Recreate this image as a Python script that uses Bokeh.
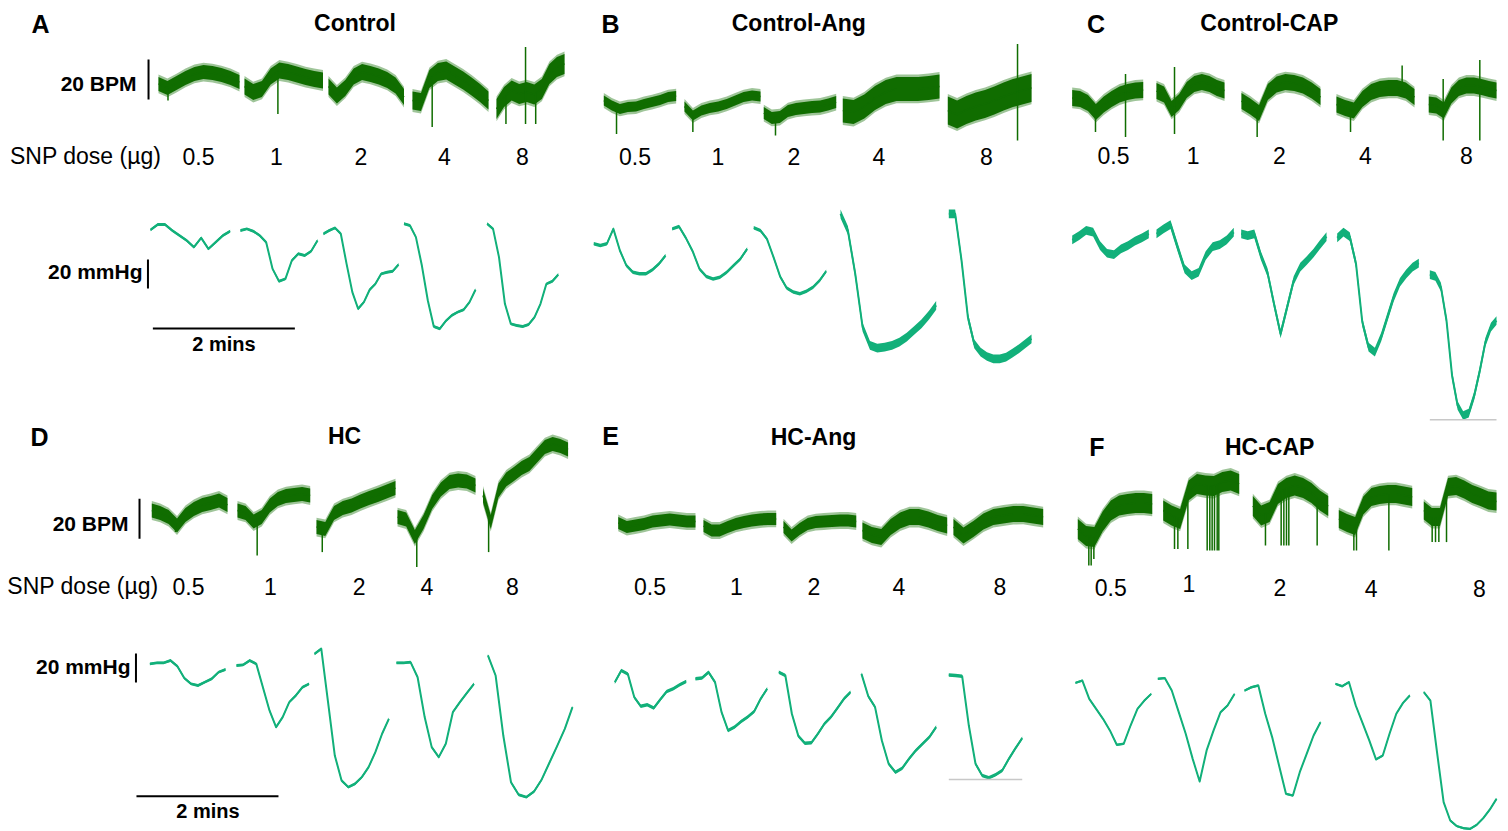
import numpy as np
from bokeh.plotting import figure
from bokeh.models import Range1d
from bokeh.layouts import column, row
from bokeh.embed import file_html
from bokeh.resources import INLINE
from bokeh.core.properties import value

# ---------------- DATA ----------------
DOSES = ["0.5", "1", "2", "4", "8"]
PANEL_LETTERS = ["A", "B", "C", "D", "E", "F"]
PANEL_TITLES = ["Control", "Control-Ang", "Control-CAP", "HC", "HC-Ang", "HC-CAP"]
DOSE_AXIS_LABEL = "SNP dose (\u00b5g)"
HR_SCALE_LABEL = "20 BPM"
BP_SCALE_LABEL = "20 mmHg"
TIME_SCALE_LABEL = "2 mins"
HR_SCALE = 20      # BPM
BP_SCALE = 20      # mmHg
TIME_SCALE = 2     # min

# segment start/end (min) of each dose recording
HR_TIME_A = [(2.225, 3.366), (3.437, 4.542), (4.620, 5.683), (5.803, 6.873), (6.986, 7.944)]
BP_TIME_A = [(2.113, 3.234), (3.380, 4.465), (4.549, 5.606), (5.683, 6.690), (6.854, 7.856)]
HR_TIME_B = [(0.258, 1.277), (1.394, 2.465), (2.511, 3.531), (3.624, 4.986), (5.103, 6.282)]
BP_TIME_B = [(0.117, 1.127), (1.221, 2.277), (2.370, 3.390), (3.592, 4.939), (5.117, 6.282)]
HR_TIME_C = [(0.024, 1.024), (1.211, 2.169), (2.408, 3.521), (3.746, 4.845), (5.046, 6.000)]
BP_TIME_C = [(0.024, 1.103), (1.211, 2.300), (2.404, 3.606), (3.756, 4.906), (5.061, 6.000)]
HR_TIME_D = [(2.131, 3.197), (3.338, 4.362), (4.451, 5.563), (5.592, 6.690), (6.796, 7.994)]
BP_TIME_D = [(2.104, 3.169), (3.324, 4.346), (4.423, 5.470), (5.577, 6.669), (6.865, 8.056)]
HR_TIME_E = [(0.461, 1.549), (1.662, 2.686), (2.789, 3.813), (3.901, 5.094), (5.183, 6.446)]
BP_TIME_E = [(0.413, 1.418), (1.549, 2.559), (2.723, 3.732), (3.887, 4.939), (5.117, 6.151)]
HR_TIME_F = [(0.103, 1.151), (1.306, 2.376), (2.568, 3.630), (3.779, 4.813), (4.976, 6.000)]
BP_TIME_F = [(0.070, 1.137), (1.230, 2.310), (2.451, 3.521), (3.732, 4.779), (4.976, 6.000)]

# heart rate (BPM), one list per dose
HR_A = [
    [378.3, 376.3, 378.7, 381.3, 383.3, 384.2, 383.7, 382.7, 381.3, 379.2],
    [377.0, 374.2, 375.8, 382.0, 385.0, 384.2, 383.0, 381.7, 380.8, 380.0],
    [377.0, 372.5, 376.3, 382.0, 384.2, 383.3, 382.0, 380.3, 377.5, 371.7],
    [370.0, 369.2, 380.8, 384.2, 385.0, 382.5, 380.0, 377.0, 373.7, 370.0],
    [365.8, 371.7, 375.0, 373.3, 374.2, 373.0, 375.8, 383.3, 386.7, 388.3],
]
HR_B = [
    [370.0, 367.5, 365.8, 366.7, 367.0, 368.3, 369.2, 370.3, 371.7, 372.2],
    [367.0, 362.5, 365.0, 366.3, 367.0, 368.3, 370.0, 371.7, 372.5, 372.0],
    [363.7, 361.3, 361.7, 364.7, 365.8, 366.3, 366.7, 367.0, 368.0, 369.2],
    [365.0, 364.2, 367.0, 371.3, 374.2, 375.8, 375.8, 375.8, 376.3, 377.0],
    [365.0, 363.0, 365.3, 367.0, 368.3, 370.0, 372.0, 373.7, 375.0, 376.3],
]
HR_C = [
    [371.3, 370.8, 368.7, 364.2, 368.0, 370.8, 373.0, 374.2, 375.0, 375.3],
    [374.7, 373.0, 365.8, 369.2, 375.3, 378.3, 379.2, 378.3, 376.3, 375.0],
    [369.7, 367.0, 363.7, 374.2, 378.0, 379.2, 378.7, 377.5, 375.0, 371.7],
    [368.0, 366.3, 365.0, 370.8, 374.2, 375.8, 376.3, 376.3, 375.0, 371.7],
    [368.0, 367.5, 365.0, 372.5, 376.3, 377.5, 377.5, 376.7, 375.8, 375.0],
]
HR_D = [
    [372.5, 371.3, 369.2, 365.0, 370.3, 373.3, 375.3, 376.3, 377.5, 375.3],
    [372.5, 371.3, 367.0, 369.2, 375.0, 378.3, 379.7, 380.3, 380.8, 380.0],
    [364.2, 363.3, 371.3, 373.7, 375.0, 377.0, 378.7, 380.3, 382.0, 383.7],
    [369.2, 368.0, 359.2, 366.7, 376.7, 383.0, 386.7, 387.5, 387.0, 385.0],
    [380.0, 366.7, 382.5, 388.0, 390.8, 393.7, 395.8, 400.0, 404.2, 405.8, 404.7, 403.0],
]
HR_E = [
    [366.3, 364.2, 365.0, 365.8, 367.0, 367.5, 368.0, 367.5, 367.0, 367.0],
    [364.7, 362.5, 362.5, 364.2, 365.8, 366.7, 367.5, 368.0, 368.3, 368.3],
    [364.2, 360.0, 363.3, 365.8, 366.7, 367.0, 367.3, 367.5, 367.5, 367.0],
    [362.5, 360.3, 359.2, 364.2, 367.5, 369.2, 369.2, 368.0, 366.3, 365.0],
    [364.2, 360.0, 363.3, 367.0, 369.2, 370.0, 370.7, 370.8, 370.0, 369.2],
]
HR_F = [
    [363.3, 359.7, 359.2, 367.0, 372.5, 375.0, 375.8, 376.3, 376.3, 375.8],
    [372.5, 370.0, 368.3, 382.5, 385.8, 385.0, 384.7, 386.7, 387.5, 385.8],
    [374.7, 370.0, 371.7, 380.8, 383.7, 385.0, 383.7, 381.3, 377.5, 374.7],
    [368.3, 366.3, 364.7, 375.0, 379.2, 380.3, 380.8, 380.8, 380.0, 379.2],
    [372.5, 369.2, 369.2, 384.2, 384.7, 383.0, 380.8, 379.2, 377.5, 377.0],
]
# beat-to-beat noise amplitude of HR trace (BPM)
HR_NOISE_A = [3.5, 4.0, 4.0, 4.5, 5.0]
HR_NOISE_B = [2.5, 2.5, 3.0, 6.0, 7.0]
HR_NOISE_C = [4.0, 4.0, 4.0, 4.0, 4.0]
HR_NOISE_D = [3.5, 3.5, 3.5, 3.5, 3.5]
HR_NOISE_E = [3.0, 3.0, 3.0, 4.0, 4.0]
HR_NOISE_F = [5.0, 5.0, 5.0, 4.5, 4.5]
# HR spikes (time min, BPM reached)
HR_SPIKES_A = [(2.359, 370.0), (3.907, 363.3), (6.080, 356.7), (7.119, 358.3), (7.395, 358.3),
               (7.395, 396.7), (7.538, 358.3)]
HR_SPIKES_B = [(0.437, 353.3), (1.512, 354.2), (2.676, 352.5), (6.085, 350.0), (6.085, 398.3)]
HR_SPIKES_C = [(0.352, 354.2), (0.775, 351.7), (0.775, 383.3), (1.465, 353.3), (1.465, 386.7),
               (2.629, 351.7), (3.944, 354.2), (4.671, 387.5), (5.249, 350.0), (5.249, 380.8),
               (5.765, 350.0), (5.765, 390.3)]
HR_SPIKES_D = [(2.465, 361.7), (3.615, 350.0), (4.532, 351.7), (5.863, 344.2), (6.875, 351.7)]
HR_SPIKES_E = []
HR_SPIKES_F = [(0.258, 345.0), (0.291, 345.0), (0.329, 348.3), (1.465, 353.3), (1.512, 353.3),
               (1.653, 353.3), (1.925, 352.5), (1.962, 352.5), (1.995, 352.5), (2.028, 352.5),
               (2.066, 352.5), (2.089, 352.5), (2.746, 355.0), (2.967, 355.0), (3.005, 355.0),
               (3.042, 355.0), (3.075, 355.0), (3.474, 355.0), (3.991, 352.5), (4.028, 352.5),
               (4.484, 352.5), (5.094, 356.7), (5.141, 356.7), (5.188, 356.7), (5.296, 356.7)]

# mean arterial pressure (mmHg), one list per dose
BP_A = [
    [141.8, 145.5, 145.5, 141.4, 137.9, 134.5, 129.9, 136.3, 128.7, 133.3, 137.9, 140.9],
    [141.4, 142.5, 140.9, 137.9, 133.3, 114.9, 106.4, 108.0, 120.7, 125.3, 124.1, 127.1, 134.5],
    [139.1, 141.4, 143.2, 139.1, 118.4, 98.9, 87.4, 92.0, 100.5, 104.6, 111.5, 112.6, 113.3, 117.9],
    [146.0, 144.8, 136.8, 117.2, 93.1, 75.2, 73.6, 78.9, 82.8, 85.1, 86.7, 92.0, 100.5],
    [146.0, 142.5, 123.0, 90.8, 77.0, 75.9, 75.2, 76.6, 81.6, 90.8, 104.6, 106.4, 111.0],
]
BP_B = [
    [132.2, 131.0, 132.2, 142.5, 127.6, 117.2, 112.6, 111.5, 111.5, 114.3, 118.4, 124.1],
    [142.5, 144.1, 136.3, 127.1, 114.9, 109.7, 108.0, 109.2, 112.6, 117.2, 121.8, 128.7],
    [143.2, 141.4, 135.6, 123.0, 109.7, 101.8, 98.9, 97.7, 99.5, 102.3, 106.9, 113.3],
    [152.9, 141.4, 111.5, 74.7, 62.1, 60.2, 60.9, 62.1, 64.4, 67.8, 72.4, 77.0, 82.8, 89.7],
    [152.9, 152.9, 120.7, 81.6, 63.2, 57.5, 54.5, 52.9, 52.9, 54.0, 56.8, 59.8, 63.2, 66.7],
]
BP_C = [
    [134.9, 137.9, 141.4, 140.2, 131.0, 125.7, 124.8, 128.7, 131.0, 134.0, 136.3, 139.1],
    [139.1, 142.5, 145.5, 129.9, 114.9, 110.3, 112.6, 124.1, 130.3, 131.7, 134.9, 140.2],
    [139.1, 137.9, 139.1, 124.1, 112.6, 90.8, 70.1, 88.5, 106.9, 116.1, 120.7, 125.7, 131.7, 137.2],
    [136.3, 140.2, 137.2, 118.4, 78.2, 60.9, 57.5, 67.8, 81.6, 95.4, 105.7, 111.5, 116.1, 118.9],
    [111.0, 109.7, 102.3, 79.3, 41.4, 20.7, 13.8, 15.4, 27.6, 44.8, 64.4, 74.7, 79.3],
]
BP_D = [
    [128.7, 129.4, 129.4, 131.0, 127.1, 118.9, 114.9, 113.8, 116.1, 118.4, 123.0, 124.8],
    [127.6, 128.0, 131.0, 128.7, 112.6, 96.6, 85.1, 92.0, 102.3, 106.9, 112.6, 114.9],
    [135.6, 139.1, 102.3, 65.5, 48.3, 43.7, 46.0, 50.6, 57.5, 67.8, 80.5, 90.8],
    [129.4, 129.4, 129.9, 119.5, 92.0, 71.3, 64.4, 73.6, 95.4, 102.3, 108.7, 114.9],
    [134.5, 120.7, 79.3, 47.1, 38.4, 36.8, 40.7, 49.0, 60.5, 72.0, 83.9, 98.9],
]
BP_E = [
    [116.1, 124.1, 121.8, 105.7, 99.5, 100.5, 98.2, 104.1, 109.7, 111.5, 114.3, 116.6],
    [118.4, 118.9, 123.0, 116.1, 95.4, 82.8, 85.1, 89.0, 92.0, 95.9, 104.6, 111.5],
    [123.0, 120.7, 94.3, 78.9, 74.0, 74.3, 80.5, 87.4, 92.0, 98.2, 104.6, 109.2],
    [121.8, 106.4, 98.9, 75.9, 59.8, 54.0, 56.8, 63.2, 69.0, 73.6, 78.2, 85.1],
    [121.1, 120.7, 120.2, 86.2, 59.8, 51.7, 50.1, 52.2, 55.2, 63.2, 70.6, 77.5],
]
BP_F = [
    [115.6, 117.2, 104.6, 97.7, 90.8, 82.8, 72.9, 73.6, 86.2, 97.7, 103.4, 108.0],
    [118.4, 118.9, 110.3, 95.4, 80.5, 63.2, 47.6, 69.0, 82.8, 95.4, 100.0, 108.0],
    [110.3, 112.6, 113.8, 94.3, 78.2, 58.6, 39.1, 37.9, 54.0, 66.7, 79.3, 88.5],
    [114.9, 113.3, 116.1, 100.0, 88.0, 75.9, 62.8, 65.5, 80.5, 94.3, 101.8, 106.9],
    [109.2, 103.4, 67.8, 33.3, 20.7, 16.8, 15.4, 14.9, 17.7, 22.3, 28.3, 35.6],
]
BP_NOISE_A = [1.0, 1.0, 1.0, 1.0, 1.0]
BP_NOISE_B = [1.2, 1.2, 1.2, 3.0, 3.0]
BP_NOISE_C = [3.0, 3.0, 3.0, 3.0, 3.0]
BP_NOISE_D = [1.0, 1.0, 1.0, 1.0, 1.0]
BP_NOISE_E = [1.2, 1.2, 1.2, 1.2, 1.2]
BP_NOISE_F = [0.8, 0.8, 0.8, 0.8, 0.8]

# ---------------- LAYOUT / STYLE ----------------
PX_PER_MIN = 71.0
PX_PER_BPM = 2.0
PX_PER_MMHG = 1.45
HR_TOP = 420.0
BP_TOP = 300.0
HR_COLOR = "#106d00"
BP_COLOR = "#12b07a"
FONT = "Liberation Sans"

COL_PX = [(0, 590), (5, 465), (-20, 438)]
ROW_PY = [(0, 422), (7, 416)]

# layout positions (panel px units)
LETTER_POS = [(40, 23), (25, 23.5), (25.5, 23.3), (39, 21), (25, 20.5), (26.3, 31.7)]
TITLE_POS = [(354.5, 22), (213.3, 22), (198.8, 22), (344, 20), (228, 21), (199.2, 31)]
DOSE_POS = [
    [(198, 156), (276, 156), (360.5, 156), (444, 156), (522, 156)],
    [(49.5, 155.7), (132.3, 155.7), (208.3, 155.7), (293.3, 155.7), (401, 155.7)],
    [(43, 155), (122.7, 155), (209, 155), (295, 155), (396, 155)],
    [(188, 170.7), (270, 170.7), (358.7, 170.7), (426.4, 170.7), (512, 170.7)],
    [(64.5, 170.7), (151, 170.7), (228.3, 170.7), (313.3, 170.7), (414.3, 170.7)],
    [(40.2, 171.7), (118.3, 168.3), (209.3, 171.7), (300.7, 172.7), (409, 172.7)],
]
GRAY_LINES = {2: (5.061, 6.000, 419.3), 4: (5.117, 6.151, 364.0)}

SCALEBARS = {
    0: dict(dose_lbl=(9.5, 155), hr_lbl=(136, 83), bp_lbl=(142, 271), t_lbl=(223.5, 343),
            hr_bar_x=2.085, hr_bar_y0=370.5, bp_bar_x=2.077, bp_bar_y0=101.4,
            t_bar_x0=2.146, t_bar_py=328),
    3: dict(dose_lbl=(6.8, 170.5), hr_lbl=(128, 108), bp_lbl=(130, 250.5), t_lbl=(207.4, 395.5),
            hr_bar_x=1.958, hr_bar_y0=358.4, bp_bar_x=1.908, bp_bar_y0=115.9,
            t_bar_x0=1.915, t_bar_py=380.7),
}

PANELS = [
    (HR_TIME_A, HR_A, HR_NOISE_A, HR_SPIKES_A, BP_TIME_A, BP_A, BP_NOISE_A),
    (HR_TIME_B, HR_B, HR_NOISE_B, HR_SPIKES_B, BP_TIME_B, BP_B, BP_NOISE_B),
    (HR_TIME_C, HR_C, HR_NOISE_C, HR_SPIKES_C, BP_TIME_C, BP_C, BP_NOISE_C),
    (HR_TIME_D, HR_D, HR_NOISE_D, HR_SPIKES_D, BP_TIME_D, BP_D, BP_NOISE_D),
    (HR_TIME_E, HR_E, HR_NOISE_E, HR_SPIKES_E, BP_TIME_E, BP_E, BP_NOISE_E),
    (HR_TIME_F, HR_F, HR_NOISE_F, HR_SPIKES_F, BP_TIME_F, BP_F, BP_NOISE_F),
]


def txt(p, x, y, s, size, bold=False, align="center"):
    p.text(x=[x], y=[y], text=[s], x_range_name="lx", y_range_name="ly",
           text_font=value(FONT), text_font_size=size,
           text_font_style="bold" if bold else "normal",
           text_align=align, text_baseline="middle", text_color="black")


def make_panel(i):
    col, rw = i % 3, i // 3
    px_l, px_r = COL_PX[col]
    py_t, py_b = ROW_PY[rw]
    p = figure(width=px_r - px_l, height=py_b - py_t,
               x_range=Range1d(px_l / PX_PER_MIN, px_r / PX_PER_MIN),
               y_range=Range1d(BP_TOP - py_b / PX_PER_MMHG, BP_TOP - py_t / PX_PER_MMHG),
               output_backend="svg", toolbar_location=None, tools="",
               x_axis_location=None, y_axis_location=None, min_border=0)
    p.outline_line_color = None
    p.grid.visible = False
    p.background_fill_color = "white"
    p.extra_y_ranges = {"hr": Range1d(HR_TOP - py_b / PX_PER_BPM, HR_TOP - py_t / PX_PER_BPM),
                        "ly": Range1d(py_b, py_t)}
    p.extra_x_ranges = {"lx": Range1d(px_l, px_r)}

    hr_t, hr, hr_n, hr_sp, bp_t, bp, bp_n = PANELS[i]
    all_x, all_v = [], []
    for (t0, t1), vals, nz in zip(hr_t, hr, hr_n):
        v = np.array(vals)
        xs = np.linspace(t0, t1, len(v))
        # soft outer fringe, then solid core
        p.varea(x=xs, y1=v - nz - 1.2, y2=v + nz + 1.2, y_range_name="hr",
                fill_color=HR_COLOR, fill_alpha=0.4)
        p.varea(x=xs, y1=v - nz, y2=v + nz, y_range_name="hr", fill_color=HR_COLOR)
        p.line(xs, v, y_range_name="hr", line_color=HR_COLOR, line_width=1.5)
        all_x.append(xs)
        all_v.append(v)
    for (ts, vs) in hr_sp:
        for xs, v in zip(all_x, all_v):
            if xs[0] - 0.01 <= ts <= xs[-1] + 0.01:
                ym = float(np.interp(ts, xs, v))
                p.segment(x0=[ts], y0=[ym], x1=[ts], y1=[vs], y_range_name="hr",
                          line_color=HR_COLOR, line_width=1.5)
                break
    for (t0, t1), vals, nz in zip(bp_t, bp, bp_n):
        v = np.array(vals)
        xs = np.linspace(t0, t1, len(v))
        p.varea(x=xs, y1=v - nz, y2=v + nz, fill_color=BP_COLOR)
        p.line(xs, v, line_color=BP_COLOR, line_width=2, line_join="round")

    if i in GRAY_LINES:
        g0, g1, gy = GRAY_LINES[i]
        p.segment(x0=[g0], x1=[g1], y0=[gy], y1=[gy], y_range_name="ly",
                  line_color="#c8c8c8", line_width=1.5)

    lx, ly = LETTER_POS[i]
    txt(p, lx, ly, PANEL_LETTERS[i], "25px", bold=True)
    tx, ty = TITLE_POS[i]
    txt(p, tx, ty, PANEL_TITLES[i], "23px", bold=True)
    for (dx, dy), d in zip(DOSE_POS[i], DOSES):
        txt(p, dx, dy, d, "23px")

    if i in SCALEBARS:
        s = SCALEBARS[i]
        txt(p, s["dose_lbl"][0], s["dose_lbl"][1], DOSE_AXIS_LABEL, "23px", align="left")
        txt(p, s["hr_lbl"][0], s["hr_lbl"][1], HR_SCALE_LABEL, "21px", bold=True, align="right")
        txt(p, s["bp_lbl"][0], s["bp_lbl"][1], BP_SCALE_LABEL, "21px", bold=True, align="right")
        txt(p, s["t_lbl"][0], s["t_lbl"][1], TIME_SCALE_LABEL, "20px", bold=True)
        p.segment(x0=[s["hr_bar_x"]], x1=[s["hr_bar_x"]], y0=[s["hr_bar_y0"]],
                  y1=[s["hr_bar_y0"] + HR_SCALE], y_range_name="hr", line_color="black", line_width=2)
        p.segment(x0=[s["bp_bar_x"]], x1=[s["bp_bar_x"]], y0=[s["bp_bar_y0"]],
                  y1=[s["bp_bar_y0"] + BP_SCALE], line_color="black", line_width=2)
        p.segment(x0=[s["t_bar_x0"]], x1=[s["t_bar_x0"] + TIME_SCALE], y0=[s["t_bar_py"]],
                  y1=[s["t_bar_py"]], y_range_name="ly", line_color="black", line_width=2)
    return p


figs = [make_panel(i) for i in range(6)]
layout = column(row(*figs[:3], spacing=0), row(*figs[3:], spacing=0), spacing=0)
open("out.html", "w").write(file_html(layout, INLINE))
